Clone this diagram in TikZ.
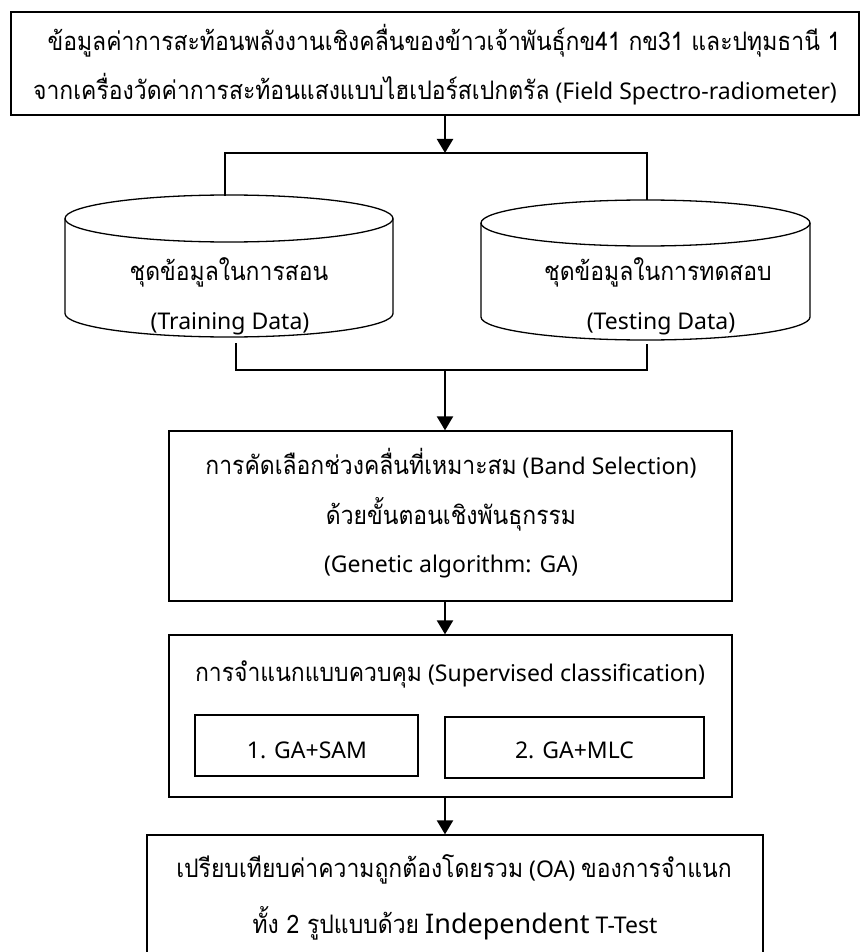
\documentclass[tikz,border=0pt]{standalone}
\usepackage{fontspec}
\setmainfont{Noto Sans}
\newfontfamily\thaifont[Script=Thai, FakeStretch=0.9]{Loma}
\newcommand\tha[1]{{\thaifont\fontsize{25.5}{30}\selectfont #1}}
\usetikzlibrary{arrows.meta}
\begin{document}
\begin{tikzpicture}[x=1pt,y=-1pt,
  box/.style={draw, line width=1.3pt, inner sep=0pt},
  txt/.style={font=\fontsize{23}{28}\selectfont, inner sep=0pt, anchor=base},
  link/.style={line width=1.3pt},
  arr/.style={line width=2.2pt, -{Triangle[length=14pt,width=16pt]}},
]
\clip (0,0) rectangle (866,952);

% source data box
\node[box, minimum width=848pt, minimum height=103pt] (src) at (435,63.5) {};
\node[txt] (src1) at (444,51) {\tha{ข้อมูลค่าการสะท้อนพลังงานเชิงคลื่นของข้าวเจ้าพันธุ์กข41 กข31 และปทุมธานี 1}};
\node[txt] (src2) at (435,100) {\tha{จากเครื่องวัดค่าการสะท้อนแสงแบบไฮเปอร์สเปกตรัล} (Field Spectro-radiometer)};

% training data cylinder
\draw[link] (229,218.5) ellipse[x radius=164, y radius=23.5];
\draw[link] (65,218.5) -- (65,313.5) arc[start angle=180, end angle=0, x radius=164, y radius=23.5] -- (393,218.5);
\node[txt] (train1) at (229,280) {\tha{ชุดข้อมูลในการสอน}};
\node[txt] (train2) at (230,329) {(Training Data)};
\coordinate (trainTop) at (225,195.5);
\coordinate (trainBot) at (236,343);

% testing data cylinder
\draw[link] (645.5,223) ellipse[x radius=164.5, y radius=23];
\draw[link] (481,223) -- (481,317) arc[start angle=180, end angle=0, x radius=164.5, y radius=23] -- (810,223);
\node[txt] (test1) at (658,280) {\tha{ชุดข้อมูลในการทดสอบ}};
\node[txt] (test2) at (661,329) {(Testing Data)};
\coordinate (testTop) at (647,200);
\coordinate (testBot) at (647,344);

% split and merge
\coordinate (split) at (445,153);
\coordinate (merge) at (445,370);
\draw[arr] (src.south -| split) -- (split);
\draw[link] (trainTop) |- (split) -| (testTop);
\draw[link] (trainBot) |- (merge) -| (testBot);

% band selection
\node[box, minimum width=563pt, minimum height=170pt] (sel) at (450.5,516) {};
\node[txt] (sel1) at (451,474) {\tha{การคัดเลือกช่วงคลื่นที่เหมาะสม} (Band Selection)};
\node[txt] (sel2) at (451,524) {\tha{ด้วยขั้นตอนเชิงพันธุกรรม}};
\node[txt] (sel3) at (451,572) {(Genetic algorithm: GA)};

% supervised classification
\node[box, minimum width=563pt, minimum height=162pt] (cls) at (450.5,716) {};
\node[txt] (cls1) at (450,681) {\tha{การจำแนกแบบควบคุม} (Supervised classification)};
\node[box, minimum width=223pt, minimum height=61pt] (sam) at (306.5,745.5) {};
\node[txt] (samt) at (307,758) {1. GA+SAM};
\node[box, minimum width=259pt, minimum height=61pt] (mlc) at (574.5,747.5) {};
\node[txt] (mlct) at (574.5,758) {2. GA+MLC};

% comparison
\node[box, minimum width=616pt, minimum height=130pt] (cmp) at (455,900) {};
\node[txt] (cmp1) at (454,877) {\tha{เปรียบเทียบค่าความถูกต้องโดยรวม} (OA) \tha{ของการจำแนก}};
\node[txt] (cmp2) at (455,933) {\tha{ทั้ง 2 รูปแบบด้วย} {\fontsize{27}{30}\selectfont Independent} T-Test};

\draw[arr] (merge) -- (merge |- sel.north);
\draw[arr] (sel.south -| merge) -- (merge |- cls.north);
\draw[arr] (cls.south -| merge) -- (merge |- cmp.north);
\end{tikzpicture}
\end{document}
